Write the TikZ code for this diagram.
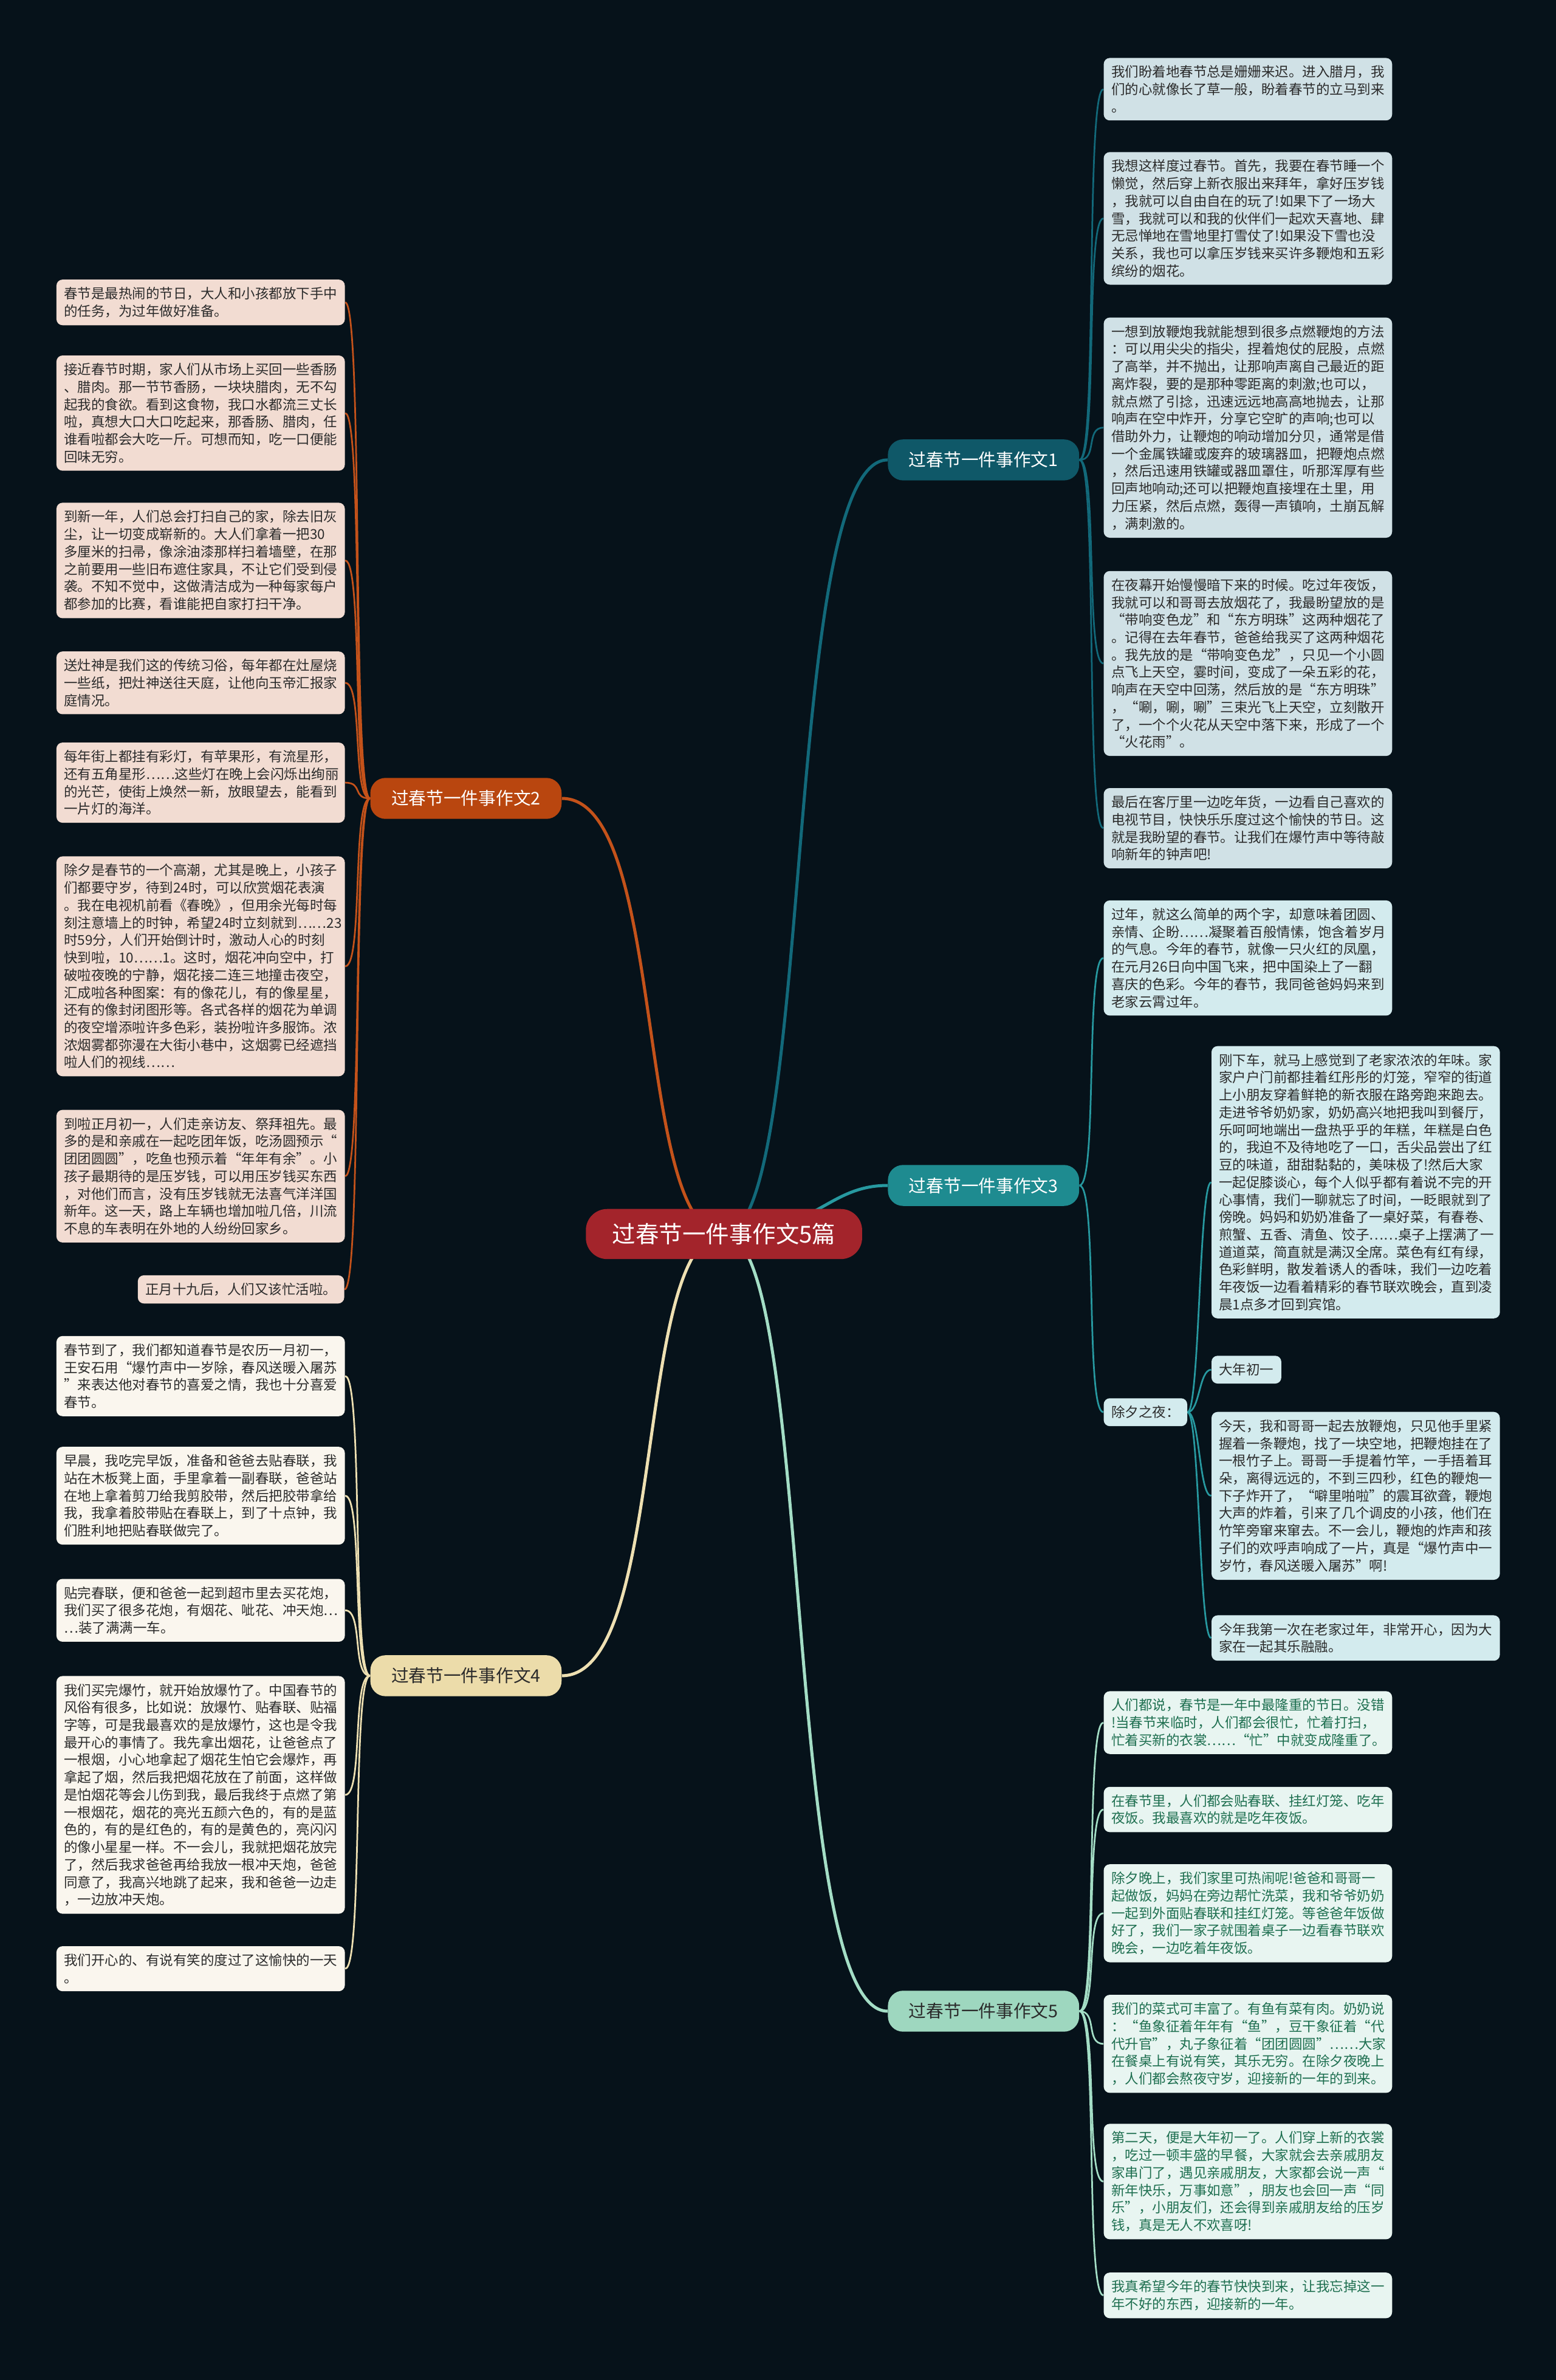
\documentclass[tikz,border=0pt]{standalone}
\usepackage{fontspec}
\setmainfont{Noto Sans CJK SC}
\usetikzlibrary{backgrounds}
\definecolor{bgc}{HTML}{06121A}
\definecolor{txt}{HTML}{2B2B2B}
\definecolor{ctrc}{HTML}{A3242B}
\definecolor{onec}{HTML}{0F5868}
\definecolor{onel}{HTML}{12697A}
\definecolor{onef}{HTML}{D0E1E6}
\definecolor{twoc}{HTML}{B9460F}
\definecolor{twol}{HTML}{C4521A}
\definecolor{twof}{HTML}{F2DCD2}
\definecolor{thrc}{HTML}{1E8B90}
\definecolor{thrl}{HTML}{2799A0}
\definecolor{thrf}{HTML}{D3EBEE}
\definecolor{forc}{HTML}{ECDCAA}
\definecolor{forl}{HTML}{EEE0B2}
\definecolor{forf}{HTML}{FAF6EE}
\definecolor{fivc}{HTML}{9ED7BF}
\definecolor{fivl}{HTML}{A4DEC6}
\definecolor{fivf}{HTML}{E8F5F1}
\definecolor{fivt}{HTML}{1E6F50}

\begin{document}
\begin{tikzpicture}[x=1pt,y=-1pt,
  box/.style={anchor=north west,rounded corners=4pt,inner xsep=5pt,inner ysep=5pt,text width=180pt,align=left,font=\fontsize{9}{11.5}\selectfont,text=txt},
  tag/.style={anchor=north west,rounded corners=4pt,inner xsep=5pt,inner ysep=5pt,font=\fontsize{9}{11.5}\selectfont,text=txt},
  branch/.style={rounded corners=10pt,minimum width=126pt,minimum height=27pt,inner sep=0pt,font=\fontsize{11.5}{13}\selectfont},
  link/.style={line width=1.1pt}]
\useasboundingbox (0,0) rectangle (1025,1568);

\node[fill=ctrc,text=white,rounded corners=14pt,minimum width=182pt,minimum height=33pt,font=\fontsize{15.4}{18}\selectfont] (ctr) at (477,813) {过春节一件事作文5篇};
\node[branch,fill=onec,text=white] (w1) at (648,303) {过春节一件事作文1};
\node[branch,fill=twoc,text=white] (w2) at (307,526) {过春节一件事作文2};
\node[branch,fill=thrc,text=white] (w3) at (648,781) {过春节一件事作文3};
\node[branch,fill=forc,text=txt] (w4) at (307,1104) {过春节一件事作文4};
\node[branch,fill=fivc,text=txt] (w5) at (648,1325) {过春节一件事作文5};

\node[box,fill=onef] (w1a) at (727,38) {我们盼着地春节总是姗姗来迟。进入腊月，我\\们的心就像长了草一般，盼着春节的立马到来\\。};
\node[box,fill=onef] (w1b) at (727,100) {我想这样度过春节。首先，我要在春节睡一个\\懒觉，然后穿上新衣服出来拜年，拿好压岁钱\\，我就可以自由自在的玩了!如果下了一场大\\雪，我就可以和我的伙伴们一起欢天喜地、肆\\无忌惮地在雪地里打雪仗了!如果没下雪也没\\关系，我也可以拿压岁钱来买许多鞭炮和五彩\\缤纷的烟花。};
\node[box,fill=onef] (w1c) at (727,209) {一想到放鞭炮我就能想到很多点燃鞭炮的方法\\：可以用尖尖的指尖，捏着炮仗的屁股，点燃\\了高举，并不抛出，让那响声离自己最近的距\\离炸裂，要的是那种零距离的刺激;也可以，\\就点燃了引捻，迅速远远地高高地抛去，让那\\响声在空中炸开，分享它空旷的声响;也可以\\借助外力，让鞭炮的响动增加分贝，通常是借\\一个金属铁罐或废弃的玻璃器皿，把鞭炮点燃\\，然后迅速用铁罐或器皿罩住，听那浑厚有些\\回声地响动;还可以把鞭炮直接埋在土里，用\\力压紧，然后点燃，轰得一声镇响，土崩瓦解\\，满刺激的。};
\node[box,fill=onef] (w1d) at (727,376) {在夜幕开始慢慢暗下来的时候。吃过年夜饭，\\我就可以和哥哥去放烟花了，我最盼望放的是\\“带响变色龙”和“东方明珠”这两种烟花了\\。记得在去年春节，爸爸给我买了这两种烟花\\。我先放的是“带响变色龙”，只见一个小圆\\点飞上天空，霎时间，变成了一朵五彩的花，\\响声在天空中回荡，然后放的是“东方明珠”\\，“唰，唰，唰”三束光飞上天空，立刻散开\\了，一个个火花从天空中落下来，形成了一个\\“火花雨”。};
\node[box,fill=onef] (w1e) at (727,519) {最后在客厅里一边吃年货，一边看自己喜欢的\\电视节目，快快乐乐度过这个愉快的节日。这\\就是我盼望的春节。让我们在爆竹声中等待敲\\响新年的钟声吧!};

\node[box,fill=twof] (w2a) at (37,184) {春节是最热闹的节日，大人和小孩都放下手中\\的任务，为过年做好准备。};
\node[box,fill=twof] (w2b) at (37,234) {接近春节时期，家人们从市场上买回一些香肠\\、腊肉。那一节节香肠，一块块腊肉，无不勾\\起我的食欲。看到这食物，我口水都流三丈长\\啦，真想大口大口吃起来，那香肠、腊肉，任\\谁看啦都会大吃一斤。可想而知，吃一口便能\\回味无穷。};
\node[box,fill=twof] (w2c) at (37,331) {到新一年，人们总会打扫自己的家，除去旧灰\\尘，让一切变成崭新的。大人们拿着一把30\\多厘米的扫帚，像涂油漆那样扫着墙壁，在那\\之前要用一些旧布遮住家具，不让它们受到侵\\袭。不知不觉中，这做清洁成为一种每家每户\\都参加的比赛，看谁能把自家打扫干净。};
\node[box,fill=twof] (w2d) at (37,429) {送灶神是我们这的传统习俗，每年都在灶屋烧\\一些纸，把灶神送往天庭，让他向玉帝汇报家\\庭情况。};
\node[box,fill=twof] (w2e) at (37,489) {每年街上都挂有彩灯，有苹果形，有流星形，\\还有五角星形……这些灯在晚上会闪烁出绚丽\\的光芒，使街上焕然一新，放眼望去，能看到\\一片灯的海洋。};
\node[box,fill=twof] (w2f) at (37,564) {除夕是春节的一个高潮，尤其是晚上，小孩子\\们都要守岁，待到24时，可以欣赏烟花表演\\。我在电视机前看《春晚》，但用余光每时每\\刻注意墙上的时钟，希望24时立刻就到……23\\时59分，人们开始倒计时，激动人心的时刻\\快到啦，10……1。这时，烟花冲向空中，打\\破啦夜晚的宁静，烟花接二连三地撞击夜空，\\汇成啦各种图案：有的像花儿，有的像星星，\\还有的像封闭图形等。各式各样的烟花为单调\\的夜空增添啦许多色彩，装扮啦许多服饰。浓\\浓烟雾都弥漫在大街小巷中，这烟雾已经遮挡\\啦人们的视线……};
\node[box,fill=twof] (w2g) at (37,731) {到啦正月初一，人们走亲访友、祭拜祖先。最\\多的是和亲戚在一起吃团年饭，吃汤圆预示“\\团团圆圆”，吃鱼也预示着“年年有余”。小\\孩子最期待的是压岁钱，可以用压岁钱买东西\\，对他们而言，没有压岁钱就无法喜气洋洋国\\新年。这一天，路上车辆也增加啦几倍，川流\\不息的车表明在外地的人纷纷回家乡。};
\node[tag,fill=twof,anchor=north east] (w2h) at (227,840) {正月十九后，人们又该忙活啦。};

\node[box,fill=thrf] (w3a) at (727,593) {过年，就这么简单的两个字，却意味着团圆、\\亲情、企盼……凝聚着百般情愫，饱含着岁月\\的气息。今年的春节，就像一只火红的凤凰，\\在元月26日向中国飞来，把中国染上了一翻\\喜庆的色彩。今年的春节，我同爸爸妈妈来到\\老家云霄过年。};
\node[tag,fill=thrf] (w3x) at (727,921) {除夕之夜：};
\node[box,fill=thrf] (w3b) at (798,689) {刚下车，就马上感觉到了老家浓浓的年味。家\\家户户门前都挂着红彤彤的灯笼，窄窄的街道\\上小朋友穿着鲜艳的新衣服在路旁跑来跑去。\\走进爷爷奶奶家，奶奶高兴地把我叫到餐厅，\\乐呵呵地端出一盘热乎乎的年糕，年糕是白色\\的，我迫不及待地吃了一口，舌尖品尝出了红\\豆的味道，甜甜黏黏的，美味极了!然后大家\\一起促膝谈心，每个人似乎都有着说不完的开\\心事情，我们一聊就忘了时间，一眨眼就到了\\傍晚。妈妈和奶奶准备了一桌好菜，有春卷、\\煎蟹、五香、清鱼、饺子……桌子上摆满了一\\道道菜，简直就是满汉全席。菜色有红有绿，\\色彩鲜明，散发着诱人的香味，我们一边吃着\\年夜饭一边看着精彩的春节联欢晚会，直到凌\\晨1点多才回到宾馆。};
\node[tag,fill=thrf] (w3c) at (798,893) {大年初一};
\node[box,fill=thrf] (w3d) at (798,930) {今天，我和哥哥一起去放鞭炮，只见他手里紧\\握着一条鞭炮，找了一块空地，把鞭炮挂在了\\一根竹子上。哥哥一手提着竹竿，一手捂着耳\\朵，离得远远的，不到三四秒，红色的鞭炮一\\下子炸开了，“噼里啪啦”的震耳欲聋，鞭炮\\大声的炸着，引来了几个调皮的小孩，他们在\\竹竿旁窜来窜去。不一会儿，鞭炮的炸声和孩\\子们的欢呼声响成了一片，真是“爆竹声中一\\岁竹，春风送暖入屠苏”啊!};
\node[box,fill=thrf] (w3e) at (798,1064) {今年我第一次在老家过年，非常开心，因为大\\家在一起其乐融融。};

\node[box,fill=forf] (w4a) at (37,880) {春节到了，我们都知道春节是农历一月初一，\\王安石用“爆竹声中一岁除，春风送暖入屠苏\\”来表达他对春节的喜爱之情，我也十分喜爱\\春节。};
\node[box,fill=forf] (w4b) at (37,953) {早晨，我吃完早饭，准备和爸爸去贴春联，我\\站在木板凳上面，手里拿着一副春联，爸爸站\\在地上拿着剪刀给我剪胶带，然后把胶带拿给\\我，我拿着胶带贴在春联上，到了十点钟，我\\们胜利地把贴春联做完了。};
\node[box,fill=forf] (w4c) at (37,1040) {贴完春联，便和爸爸一起到超市里去买花炮，\\我们买了很多花炮，有烟花、呲花、冲天炮…\\…装了满满一车。};
\node[box,fill=forf] (w4d) at (37,1104) {我们买完爆竹，就开始放爆竹了。中国春节的\\风俗有很多，比如说：放爆竹、贴春联、贴福\\字等，可是我最喜欢的是放爆竹，这也是令我\\最开心的事情了。我先拿出烟花，让爸爸点了\\一根烟，小心地拿起了烟花生怕它会爆炸，再\\拿起了烟，然后我把烟花放在了前面，这样做\\是怕烟花等会儿伤到我，最后我终于点燃了第\\一根烟花，烟花的亮光五颜六色的，有的是蓝\\色的，有的是红色的，有的是黄色的，亮闪闪\\的像小星星一样。不一会儿，我就把烟花放完\\了，然后我求爸爸再给我放一根冲天炮，爸爸\\同意了，我高兴地跳了起来，我和爸爸一边走\\，一边放冲天炮。};
\node[box,fill=forf] (w4e) at (37,1282) {我们开心的、有说有笑的度过了这愉快的一天\\。};

\node[box,fill=fivf,text=fivt] (w5a) at (727,1114) {人们都说，春节是一年中最隆重的节日。没错\\!当春节来临时，人们都会很忙，忙着打扫，\\忙着买新的衣裳……“忙”中就变成隆重了。};
\node[box,fill=fivf,text=fivt] (w5b) at (727,1177) {在春节里，人们都会贴春联、挂红灯笼、吃年\\夜饭。我最喜欢的就是吃年夜饭。};
\node[box,fill=fivf,text=fivt] (w5c) at (727,1228) {除夕晚上，我们家里可热闹呢!爸爸和哥哥一\\起做饭，妈妈在旁边帮忙洗菜，我和爷爷奶奶\\一起到外面贴春联和挂红灯笼。等爸爸年饭做\\好了，我们一家子就围着桌子一边看春节联欢\\晚会，一边吃着年夜饭。};
\node[box,fill=fivf,text=fivt] (w5d) at (727,1314) {我们的菜式可丰富了。有鱼有菜有肉。奶奶说\\：“鱼象征着年年有“鱼"，豆干象征着“代\\代升官”，丸子象征着“团团圆圆”……大家\\在餐桌上有说有笑，其乐无穷。在除夕夜晚上\\，人们都会熬夜守岁，迎接新的一年的到来。};
\node[box,fill=fivf,text=fivt] (w5e) at (727,1399) {第二天，便是大年初一了。人们穿上新的衣裳\\，吃过一顿丰盛的早餐，大家就会去亲戚朋友\\家串门了，遇见亲戚朋友，大家都会说一声“\\新年快乐，万事如意”，朋友也会回一声“同\\乐”，小朋友们，还会得到亲戚朋友给的压岁\\钱，真是无人不欢喜呀!};
\node[box,fill=fivf,text=fivt] (w5f) at (727,1497) {我真希望今年的春节快快到来，让我忘掉这一\\年不好的东西，迎接新的一年。};

\begin{scope}[on background layer]
\fill[bgc] (0,0) rectangle (1025,1568);
\draw[onel,line width=2pt] (ctr.center) .. controls +(60,0) and +(-70,0) .. (w1.west);
\draw[thrl,line width=2pt] (ctr.center) .. controls +(60,0) and +(-40,0) .. (w3.west);
\draw[fivl,line width=2pt] (ctr.center) .. controls +(60,0) and +(-70,0) .. (w5.west);
\draw[twol,line width=2pt] (ctr.center) .. controls +(-60,0) and +(70,0) .. (w2.east);
\draw[forl,line width=2pt] (ctr.center) .. controls +(-60,0) and +(70,0) .. (w4.east);
\foreach \c in {a,b,c,d,e}
  \draw[link,onel] (w1.east) .. controls +(12,0) and +(-12,0) .. (w1\c.west);
\foreach \c in {a,b,c,d,e,f,g,h}
  \draw[link,twol] (w2.west) .. controls +(-12,0) and +(12,0) .. (w2\c.east);
\foreach \c in {a,x}
  \draw[link,thrl] (w3.east) .. controls +(12,0) and +(-12,0) .. (w3\c.west);
\foreach \c in {b,c,d,e}
  \draw[link,thrl] (w3x.east) .. controls +(8,0) and +(-8,0) .. (w3\c.west);
\foreach \c in {a,b,c,d,e}
  \draw[link,forl] (w4.west) .. controls +(-12,0) and +(12,0) .. (w4\c.east);
\foreach \c in {a,b,c,d,e,f}
  \draw[link,fivl] (w5.east) .. controls +(12,0) and +(-12,0) .. (w5\c.west);
\end{scope}
\end{tikzpicture}
\end{document}
